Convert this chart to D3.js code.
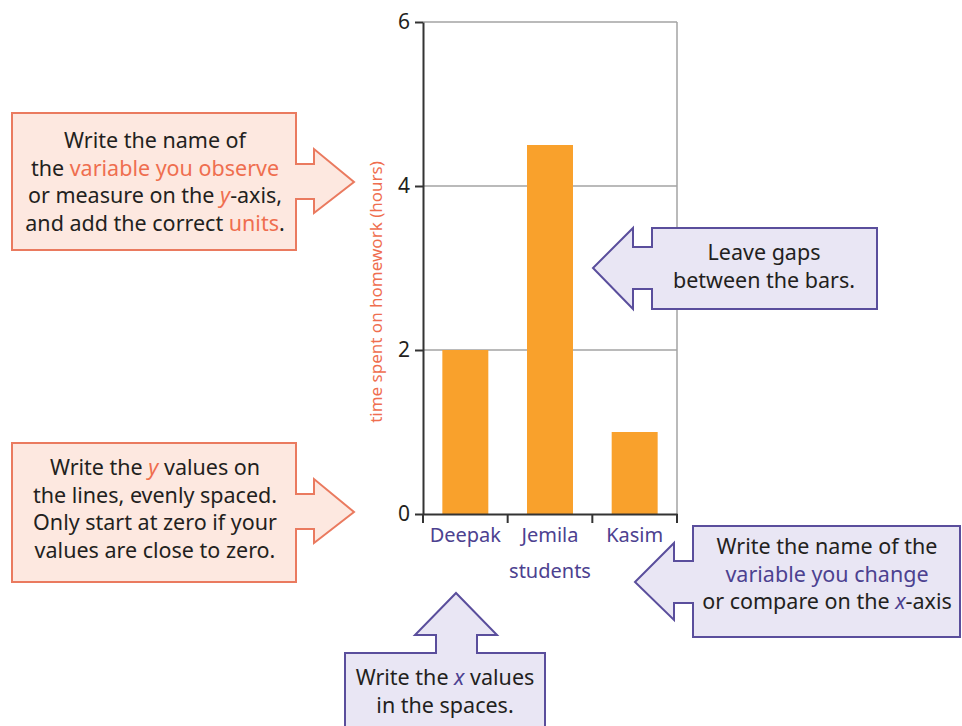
<!DOCTYPE html>
<html>
<head>
<meta charset="utf-8">
<script src="https://cdn.jsdelivr.net/npm/d3@7"></script>
<style>
  body { margin: 0; background: #fff; }
  svg { display: block; }
  .note { font-family: "Noto Sans", "Open Sans", sans-serif; font-size: 21.5px; fill: #231f20; }
  .axis text { font-family: "Noto Sans", sans-serif; }
</style>
</head>
<body>
<div class="chart"></div>
<script>
// chart data
var students = ["Deepak", "Jemila", "Kasim"];
var hours = [2, 4.5, 1];
var yTicks = [0, 2, 4, 6];

var svgWidth = 962;
var svgHeight = 726;

var svg = d3.select(".chart")
    .append("svg")
    .attr("width", svgWidth)
    .attr("height", svgHeight);

// plot area
var plot = {left: 423, right: 677, top: 22, bottom: 514};

var yScale = d3.scaleLinear()
    .domain([0, 6])
    .range([plot.bottom, plot.top]);

var xScale = d3.scaleBand()
    .domain(students)
    .range([plot.left, plot.right])
    .paddingInner(0.457)
    .paddingOuter(0.2285);

var grey = "#a3a3a3";
var dark = "#333";
var orange = "#f9a12c";
var redText = "#ef6e4f";
var purple = "#4c4190";

// grid lines
svg.append("g").selectAll("line")
    .data(yTicks.filter(d => d > 0))
    .enter()
    .append("line")
    .attr("x1", plot.left)
    .attr("x2", plot.right)
    .attr("y1", d => yScale(d))
    .attr("y2", d => yScale(d))
    .attr("stroke", grey)
    .attr("stroke-width", 1.5);

// right border
svg.append("line")
    .attr("x1", plot.right).attr("x2", plot.right)
    .attr("y1", plot.top).attr("y2", plot.bottom)
    .attr("stroke", grey)
    .attr("stroke-width", 1.5);

// bars
svg.append("g").selectAll("rect")
    .data(students)
    .enter()
    .append("rect")
    .attr("x", d => xScale(d))
    .attr("width", xScale.bandwidth())
    .attr("y", (d, i) => yScale(hours[i]))
    .attr("height", (d, i) => yScale(0) - yScale(hours[i]))
    .attr("fill", orange);

// y axis
var leftAxis = d3.axisLeft(yScale)
    .tickValues(yTicks)
    .tickFormat(d3.format("d"))
    .tickSize(8).tickSizeOuter(0).tickPadding(5);
var yAxis = svg.append("g")
    .attr("class", "axis")
    .attr("transform", `translate(${plot.left},0)`)
    .call(leftAxis);
yAxis.select(".domain").attr("stroke", dark).attr("stroke-width", 2);
yAxis.selectAll(".tick line").attr("stroke", dark).attr("stroke-width", 2);
yAxis.selectAll(".tick text").attr("font-size", 21).attr("fill", "#231f20");

// x axis
var bottomAxis = d3.axisBottom(xScale).tickSize(0).tickSizeOuter(0).tickPadding(14);
var xAxis = svg.append("g")
    .attr("class", "axis")
    .attr("transform", `translate(0,${plot.bottom})`)
    .call(bottomAxis);
xAxis.select(".domain").attr("stroke", dark).attr("stroke-width", 2);
xAxis.selectAll(".tick text").attr("font-size", 20).attr("fill", purple);

// tick marks between the categories
var bounds = students.map(d => xScale(d) - xScale.step() * xScale.paddingInner() / 2);
bounds.push(plot.right);
xAxis.selectAll(".bound")
    .data(bounds)
    .enter()
    .append("line")
    .attr("class", "bound")
    .attr("x1", d => d).attr("x2", d => d)
    .attr("y1", 0).attr("y2", 9)
    .attr("stroke", dark)
    .attr("stroke-width", 2);

// axis titles
svg.append("text")
    .attr("transform", "translate(382,292) rotate(-90)")
    .attr("text-anchor", "middle")
    .attr("font-family", "Noto Sans, sans-serif")
    .attr("font-size", 17)
    .attr("fill", redText)
    .text("time spent on homework (hours)");

svg.append("text")
    .attr("x", (xScale("Jemila") + xScale.bandwidth() / 2))
    .attr("y", 578)
    .attr("text-anchor", "middle")
    .attr("font-family", "Noto Sans, sans-serif")
    .attr("font-size", 20)
    .attr("fill", purple)
    .text("students");

// callout shapes
var pinkFill = "#fde8e0", pinkLine = "#ea7a5f";
var lilacFill = "#e9e6f4", lilacLine = "#5a4e9c";

function rightArrow(x0, y0, x1, y1, cy) {
  // box with arrow pointing right
  return [[x0, y0], [x1, y0], [x1, cy - 18], [x1 + 18, cy - 18], [x1 + 18, cy - 33],
          [x1 + 58, cy], [x1 + 18, cy + 31], [x1 + 18, cy + 17], [x1, cy + 17], [x1, y1], [x0, y1]];
}

var callouts = [
  {pts: rightArrow(12, 113, 296, 250, 182), fill: pinkFill, line: pinkLine},
  {pts: rightArrow(12, 443, 296, 582, 512), fill: pinkFill, line: pinkLine},
  {pts: [[652, 228], [877, 228], [877, 309], [652, 309], [652, 289], [633, 289], [633, 309],
         [593, 268], [633, 228], [633, 247], [652, 247]], fill: lilacFill, line: lilacLine},
  {pts: [[693, 526], [960, 526], [960, 637], [693, 637], [693, 603], [674, 603], [674, 620],
         [635, 582], [674, 543], [674, 561], [693, 561]], fill: lilacFill, line: lilacLine},
  {pts: [[345, 653], [436, 653], [436, 635], [415, 635], [456, 593], [497, 635], [477, 635],
         [477, 653], [545, 653], [545, 730], [345, 730]], fill: lilacFill, line: lilacLine}
];

svg.append("g").selectAll("path")
    .data(callouts)
    .enter()
    .append("path")
    .attr("d", d => d3.line()(d.pts) + "Z")
    .attr("fill", d => d.fill)
    .attr("stroke", d => d.line)
    .attr("stroke-width", 2);

// callout text, each line is a list of [text, colour, italic]
var notes = [
  {x: 155, y: 148, lines: [
    [["Write the name of"]],
    [["the "], ["variable you observe", redText]],
    [["or measure on the "], ["y", redText, true], ["-axis,"]],
    [["and add the correct "], ["units", redText], ["."]]]},
  {x: 155, y: 475, lines: [
    [["Write the "], ["y", redText, true], [" values on"]],
    [["the lines, evenly spaced."]],
    [["Only start at zero if your"]],
    [["values are close to zero."]]]},
  {x: 764, y: 260, lines: [
    [["Leave gaps"]],
    [["between the bars."]]]},
  {x: 827, y: 554, lines: [
    [["Write the name of the"]],
    [["variable you change", purple]],
    [["or compare on the "], ["x", purple, true], ["-axis"]]]},
  {x: 445, y: 685, lines: [
    [["Write the "], ["x", purple, true], [" values"]],
    [["in the spaces."]]]}
];

notes.forEach(function(n) {
  n.lines.forEach(function(parts, i) {
    var t = svg.append("text")
        .attr("class", "note")
        .attr("x", n.x)
        .attr("y", n.y + i * 27.5)
        .attr("text-anchor", "middle");
    parts.forEach(function(p) {
      t.append("tspan")
          .attr("fill", p[1] || "#231f20")
          .attr("font-style", p[2] ? "italic" : null)
          .text(p[0]);
    });
  });
});
</script>
</body>
</html>
